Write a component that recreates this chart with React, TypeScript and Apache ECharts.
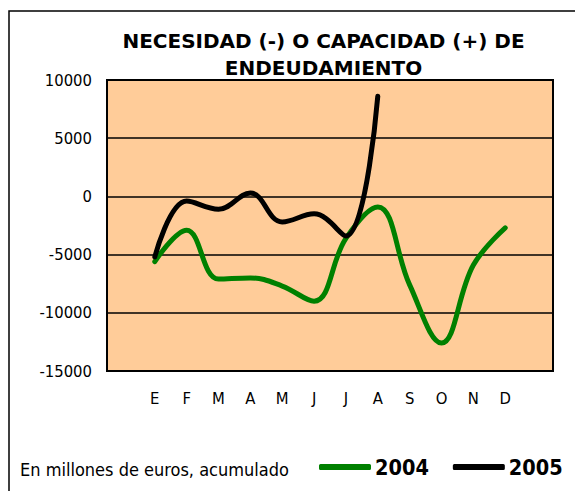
import React, { useEffect, useRef } from "react";
import * as echarts from "echarts";

const months = ["", "E", "F", "M", "A", "M", "J", "J", "A", "S", "O", "N", "D", ""];
const values2004 = [null, -5600, -2900, -7100, -7000, -7700, -9000, -3600, -900, -7600, -12600, -5900, -2700, null];
const values2005 = [null, -5200, -400, -1100, 300, -2200, -1500, -3400, 8600, null, null, null, null, null];
const yMin = -15000;
const yMax = 10000;
const yStep = 5000;
const titleLines = ["NECESIDAD (-) O CAPACIDAD (+) DE", "ENDEUDAMIENTO"];
const note = "En millones de euros, acumulado";

const FONT = '"DejaVu Sans Condensed", "DejaVu Sans", sans-serif';
const WIDE = '"DejaVu Sans", sans-serif';

export default function App() {
  const ref = useRef<HTMLDivElement>(null);
  useEffect(() => {
    if (!ref.current) return;
    const chart = echarts.init(ref.current, null, { renderer: "svg" });
    chart.setOption({
      animation: false,
      backgroundColor: "#ffffff",
      textStyle: { fontFamily: FONT },
      grid: {
        left: 107,
        top: 80,
        width: 446,
        height: 291,
        show: true,
        backgroundColor: "#FFCC99",
        borderColor: "#000000",
        borderWidth: 2,
      },
      xAxis: {
        type: "category",
        data: months,
        boundaryGap: true,
        axisLine: { show: false },
        axisTick: { show: false },
        axisLabel: { color: "#000", fontSize: 16.5, fontFamily: FONT, margin: 19, interval: 0 },
        splitLine: { show: false },
      },
      yAxis: {
        type: "value",
        min: yMin,
        max: yMax,
        interval: yStep,
        axisLine: { show: false },
        axisTick: { show: false },
        axisLabel: {
          color: "#000",
          fontSize: 16.5,
          fontFamily: FONT,
          margin: 15,
          formatter: (v: number) => String(v),
        },
        splitLine: { show: true, lineStyle: { color: "#000", width: 1.5 } },
      },
      legend: {
        left: 314,
        top: 451,
        itemWidth: 52,
        itemHeight: 6,
        itemGap: 24,
        icon: "roundRect",
        textStyle: { fontSize: 21.5, fontWeight: "bold", color: "#000", fontFamily: FONT, padding: [0, 0, 0, -1] },
        data: ["2004", "2005"],
      },
      series: [
        {
          name: "2004",
          type: "line",
          data: values2004,
          smooth: 0.4,
          symbol: "none",
          lineStyle: { color: "#008000", width: 5, cap: "round" },
          itemStyle: { color: "#008000" },
        },
        {
          name: "2005",
          type: "line",
          data: values2005,
          smooth: 0.4,
          symbol: "none",
          lineStyle: { color: "#000000", width: 5, cap: "round" },
          itemStyle: { color: "#000000" },
        },
      ],
      graphic: [
        {
          type: "rect",
          shape: { x: 9, y: 11, width: 620, height: 600 },
          style: { fill: "none", stroke: "#000", lineWidth: 1.5 },
          z: 100,
        },
        {
          type: "text",
          x: 323.5,
          y: 41,
          style: {
            text: titleLines[0],
            align: "center",
            verticalAlign: "middle",
            font: `bold 20px ${WIDE}`,
            fill: "#000",
          },
        },
        {
          type: "text",
          x: 323.5,
          y: 68,
          style: {
            text: titleLines[1],
            align: "center",
            verticalAlign: "middle",
            font: `bold 20px ${WIDE}`,
            fill: "#000",
          },
        },
        {
          type: "text",
          x: 20,
          y: 469,
          style: {
            text: note,
            align: "left",
            verticalAlign: "middle",
            font: `18px ${FONT}`,
            fill: "#000",
          },
        },
      ],
    });
    return () => chart.dispose();
  }, []);
  return (
    <div
      ref={ref}
      style={{ position: "absolute", left: 0, top: 0, width: 575, height: 491 }}
    />
  );
}
